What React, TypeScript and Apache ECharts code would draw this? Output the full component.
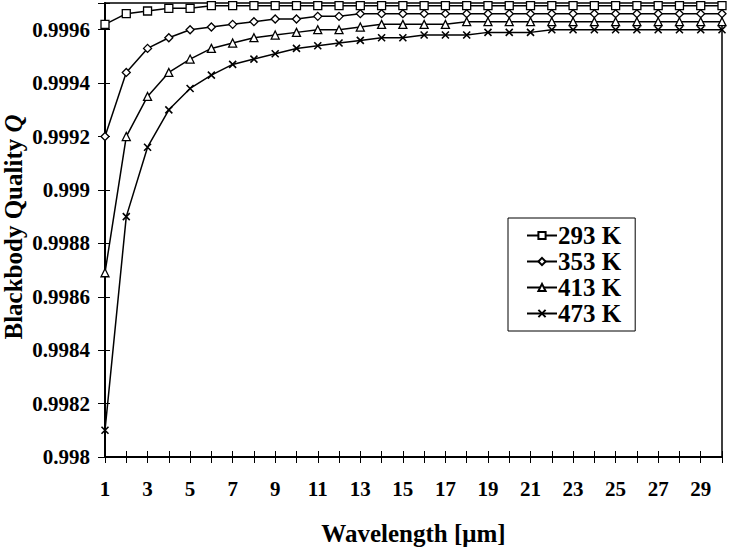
import React, { useEffect, useRef } from "react";
import * as echarts from "echarts";

const wavelengths = Array.from({ length: 30 }, (_, i) => i + 1);
const q293 = [0.99962, 0.99966, 0.99967, 0.99968, 0.99968, 0.99969, 0.99969, 0.99969, 0.99969, 0.99969, 0.99969, 0.99969, 0.99969, 0.99969, 0.99969, 0.99969, 0.99969, 0.99969, 0.99969, 0.99969, 0.99969, 0.99969, 0.99969, 0.99969, 0.99969, 0.99969, 0.99969, 0.99969, 0.99969, 0.99969];
const q353 = [0.9992, 0.99944, 0.99953, 0.99957, 0.9996, 0.99961, 0.99962, 0.99963, 0.99964, 0.99964, 0.99965, 0.99965, 0.99966, 0.99966, 0.99966, 0.99966, 0.99966, 0.99966, 0.99966, 0.99966, 0.99966, 0.99966, 0.99966, 0.99966, 0.99966, 0.99966, 0.99966, 0.99966, 0.99966, 0.99966];
const q413 = [0.99869, 0.9992, 0.99935, 0.99944, 0.99949, 0.99953, 0.99955, 0.99957, 0.99958, 0.99959, 0.9996, 0.9996, 0.99961, 0.99962, 0.99962, 0.99962, 0.99962, 0.99963, 0.99963, 0.99963, 0.99963, 0.99963, 0.99963, 0.99963, 0.99963, 0.99963, 0.99963, 0.99963, 0.99963, 0.99963];
const q473 = [0.9981, 0.9989, 0.99916, 0.9993, 0.99938, 0.99943, 0.99947, 0.99949, 0.99951, 0.99953, 0.99954, 0.99955, 0.99956, 0.99957, 0.99957, 0.99958, 0.99958, 0.99958, 0.99959, 0.99959, 0.99959, 0.9996, 0.9996, 0.9996, 0.9996, 0.9996, 0.9996, 0.9996, 0.9996, 0.9996];
const seriesNames = ["293 K", "353 K", "413 K", "473 K"];
const symbols = ["rect", "diamond", "triangle", "path://M0 0L10 10M0 10L10 0"];
const yTitle = "Blackbody Quality ";
const yTitleVar = "Q";
const xTitle = "Wavelength [μm]";

const FONT = "Liberation Serif";

export default function App() {
  const ref = useRef<HTMLDivElement>(null);
  useEffect(() => {
    if (!ref.current) return;
    const chart = echarts.init(ref.current, null, { renderer: "svg" });
    const datasets = [q293, q353, q413, q473];
    const labelStyle = { fontFamily: FONT, fontWeight: "bold" as const, fontSize: 21, color: "#000" };
    const xBase = {
      type: "value" as const,
      min: 1,
      max: 30,
      interval: 1,
      position: "bottom" as const,
      splitLine: { show: false },
    };
    const yBase = {
      type: "value" as const,
      min: 0.998,
      max: 0.9997,
      interval: 0.0002,
      position: "left" as const,
      splitLine: { show: false },
    };
    const yFmt = (v: number) => {
      const r = Math.round(v * 10000);
      if (r % 2 !== 0) return "";
      return String(parseFloat(v.toFixed(4)));
    };
    chart.setOption({
      animation: false,
      backgroundColor: "#fff",
      grid: {
        left: 105,
        right: 7,
        top: 3,
        bottom: 90,
        outerBoundsMode: "none",
        containLabel: false,
        show: true,
        borderColor: "#000",
        borderWidth: 1.5,
        backgroundColor: "transparent",
      },
      graphic: [
        {
          type: "text",
          x: 13,
          y: 227,
          rotation: Math.PI / 2,
          style: {
            text: "{a|" + yTitle + "}{b|" + yTitleVar + "}",
            align: "center",
            verticalAlign: "middle",
            rich: {
              a: { fontFamily: FONT, fontWeight: "bold", fontSize: 25, fill: "#000" },
              b: { fontFamily: FONT, fontWeight: "bold", fontStyle: "italic", fontSize: 25, fill: "#000" },
            },
          },
        },
      ],
      legend: {
        orient: "vertical",
        left: 508,
        top: 218,
        data: seriesNames,
        itemWidth: 30,
        itemHeight: 9,
        itemGap: 1,
        padding: [5, 14, 5, 18],
        borderColor: "#000",
        borderWidth: 1,
        backgroundColor: "#fff",
        textStyle: { fontFamily: FONT, fontWeight: "bold", fontSize: 25, color: "#000", padding: [0, 0, 0, -4] },
      },
      xAxis: [
        {
          ...xBase,
          name: xTitle,
          nameLocation: "middle",
          nameGap: 64,
          nameTextStyle: { fontFamily: FONT, fontWeight: "bold", fontSize: 25, color: "#000" },
          axisLine: { show: true, lineStyle: { color: "#000", width: 2 } },
          axisTick: { show: true, inside: false, length: 6, lineStyle: { color: "#000", width: 1 } },
          axisLabel: {
            ...labelStyle,
            margin: 21,
            formatter: (v: number) => (v % 2 === 1 && v < 30 ? String(v) : ""),
          },
        },
        {
          ...xBase,
          axisLine: { show: false },
          axisTick: { show: true, inside: true, length: 6, lineStyle: { color: "#000", width: 1 } },
          axisLabel: { show: false },
        },
      ],
      yAxis: [
        {
          ...yBase,
          axisLine: { show: true, lineStyle: { color: "#000", width: 2 } },
          axisTick: { show: true, inside: false, length: 7, lineStyle: { color: "#000", width: 1 } },
          axisLabel: { ...labelStyle, margin: 15, formatter: yFmt },
        },
        {
          ...yBase,
          axisLine: { show: false },
          axisTick: { show: true, inside: true, length: 5, lineStyle: { color: "#000", width: 1 } },
          axisLabel: { show: false },
        },
      ],
      series: datasets.map((d, i) => ({
        name: seriesNames[i],
        type: "line",
        xAxisIndex: 0,
        yAxisIndex: 0,
        data: wavelengths.map((w, j) => [w, d[j]]),
        symbol: symbols[i],
        symbolSize: i === 3 ? 7 : 8,
        showSymbol: true,
        clip: false,
        lineStyle: { color: "#000", width: 1.5 },
        itemStyle: { color: "#fff", borderColor: "#000", borderWidth: i === 3 ? 1.6 : 1.3 },
      })),
    });
    return () => chart.dispose();
  }, []);
  return (
    <div
      ref={ref}
      style={{ position: "absolute", left: 0, top: 0, width: 729, height: 547, background: "#fff" }}
    />
  );
}
